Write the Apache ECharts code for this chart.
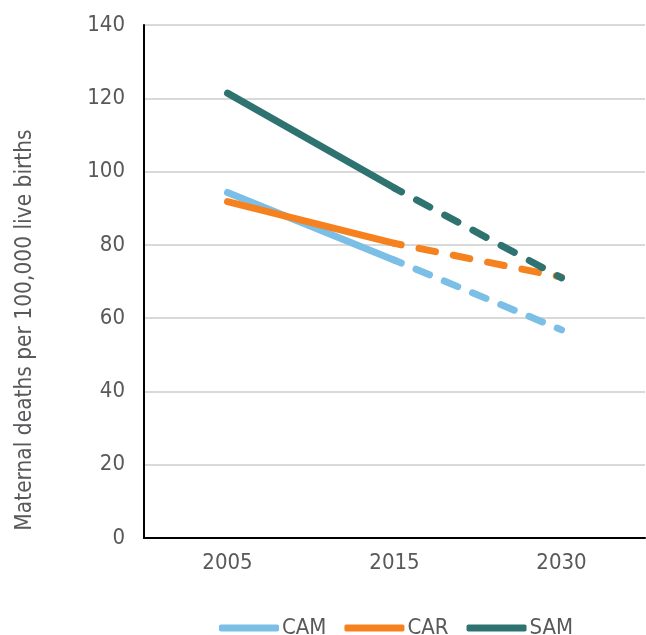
<!DOCTYPE html>
<html>
<head>
<meta charset="utf-8">
<script src="https://cdn.jsdelivr.net/npm/echarts@6/dist/echarts.min.js"></script>
<style>html,body{margin:0;padding:0;background:#fff}#c{width:646px;height:635px}</style>
</head>
<body>
<div id="c"></div>
<script>
var categories = ['2005', '2015', '2030'];
var seriesNames = ['CAM', 'CAR', 'SAM'];
var CAM = [94.3, 75.8, 56.8];
var CAR = [91.8, 80.4, 71.2];
var SAM = [121.4, 95.5, 71.0];
var yTicks = [0, 20, 40, 60, 80, 100, 120, 140];
var yTitle = 'Maternal deaths per 100,000 live births';

var colors = { CAM: '#7BBFE7', CAR: '#F5821F', SAM: '#2E7370' };
var dashStyle = {
  CAM: { type: [14.6, 16], offset: 7.3 },
  CAR: { type: [16.8, 18.2], offset: 10 },
  SAM: { type: [15, 17], offset: 7 }
};

var FONT = '"DejaVu Sans Condensed", "Liberation Sans", sans-serif';
var values = { CAM: CAM, CAR: CAR, SAM: SAM };
var series = [];
seriesNames.forEach(function (n) {
  var v = values[n];
  series.push({
    name: n, type: 'line', data: [v[0], v[1], null],
    symbol: 'none', color: colors[n],
    lineStyle: { width: 7, color: colors[n], cap: 'round', join: 'round' },
    z: 3
  });
  series.push({
    name: n, type: 'line', data: [null, v[1], v[2]],
    symbol: 'none', color: colors[n],
    lineStyle: { width: 7, color: colors[n], type: dashStyle[n].type, dashOffset: dashStyle[n].offset, cap: 'round' },
    z: 3
  });
});

var chart = echarts.init(document.getElementById('c'), null, { renderer: 'canvas' });
chart.setOption({
  animation: false,
  backgroundColor: '#fff',
  textStyle: { fontFamily: FONT },
  grid: { left: 144, right: 1, top: 25, bottom: 97, containLabel: false },
  legend: {
    data: seriesNames,
    left: 214, top: 612,
    icon: 'roundRect', itemWidth: 60, itemHeight: 7, itemGap: 18,
    textStyle: { color: '#58595B', fontSize: 22, fontFamily: FONT, padding: [0, 0, 0, -2] }
  },
  xAxis: {
    type: 'category', data: categories, boundaryGap: true,
    axisLine: { show: true, lineStyle: { color: '#000', width: 2 } },
    axisTick: { show: false },
    axisLabel: { color: '#58595B', fontSize: 22, margin: 14, fontFamily: FONT },
    splitLine: { show: false }
  },
  yAxis: {
    type: 'value', min: yTicks[0], max: yTicks[yTicks.length - 1], interval: 20,
    axisLine: { show: true, lineStyle: { color: '#000', width: 2 } },
    axisTick: { show: false },
    axisLabel: { color: '#58595B', fontSize: 22, margin: 19, fontFamily: FONT },
    splitLine: { show: true, lineStyle: { color: '#D9D9D9', width: 2 } }
  },
  graphic: [{
    type: 'text', x: 25, y: 330, rotation: Math.PI / 2,
    style: { text: yTitle, fill: '#58595B', font: '22.5px ' + FONT, align: 'center', verticalAlign: 'middle' }
  }],
  series: series
});
</script>
</body>
</html>
